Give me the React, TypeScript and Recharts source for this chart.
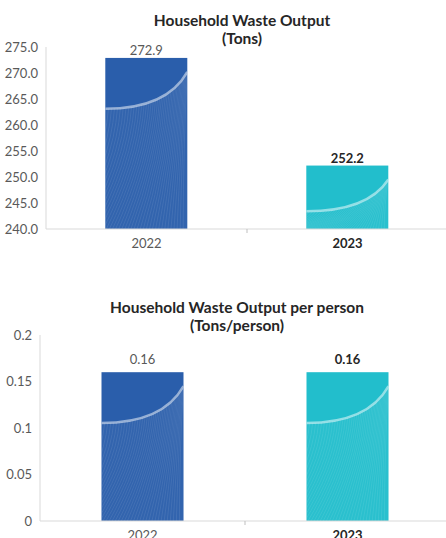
import React from 'react';
import { BarChart, Bar, XAxis, YAxis, LabelList } from 'recharts';

const years = ['2022', '2023'];
const totalTons = [272.9, 252.2];
const perPerson = [0.16, 0.16];
const totalTicks = [240, 245, 250, 255, 260, 265, 270, 275];
const perPersonTicks = [0, 0.05, 0.1, 0.15, 0.2];

const BAR_COLORS = ['#2A5EAB', '#22BECC'];
const FONT = 'Lato, "Open Sans", sans-serif';
const GRAY = '#595959';
const DARK = '#262626';
const AXIS = '#D9D9D9';

const totalData = years.map((year, i) => ({ year, value: totalTons[i] }));
const perPersonData = years.map((year, i) => ({ year, value: perPerson[i] }));

// bar with the swoosh texture from the original report
const texturedBar = (prefix: string) => (props: any) => {
  const { x, y, width: w, height: h, index } = props;
  if (!h || h <= 0) return null;
  const fill = BAR_COLORS[index % BAR_COLORS.length];
  const id = `${prefix}-clip-${index}`;
  const bottom = y + h;
  const yL = y + Math.min(0.62 * w, 0.72 * h);
  const yR = y + Math.min(0.17 * w, 0.3 * h);
  const arc = (t: number) => {
    // quadratic bezier from (x, yL) via (x + 0.75w, yL) to (x + w, yR)
    const cx = x + 0.75 * w;
    const px = (1 - t) * (1 - t) * x + 2 * (1 - t) * t * cx + t * t * (x + w);
    const py = (1 - t) * (1 - t) * yL + 2 * (1 - t) * t * yL + t * t * yR;
    return [px, py];
  };
  const lines = [];
  const n = 40;
  for (let i = 0; i < n; i++) {
    const s = i / (n - 1);
    const [sx, sy] = arc(s);
    const ex = x + (1.5 * s - 0.55) * w;
    const ey = bottom + 4;
    const qx = sx - 0.05 * w;
    const qy = sy + (ey - sy) * 0.45;
    lines.push(
      <path
        key={i}
        d={`M${sx},${sy} Q${qx},${qy} ${ex},${ey}`}
        stroke="#ffffff"
        strokeOpacity={0.14}
        strokeWidth={0.6}
        fill="none"
      />
    );
  }
  return (
    <g>
      <defs>
        <clipPath id={id}>
          <rect x={x} y={y} width={w} height={h} />
        </clipPath>
      </defs>
      <rect x={x} y={y} width={w} height={h} fill={fill} />
      <g clipPath={`url(#${id})`}>
        <path
          d={`M${x},${yL} Q${x + 0.75 * w},${yL} ${x + w},${yR} L${x + w},${bottom} L${x},${bottom} Z`}
          fill="#ffffff"
          fillOpacity={0.04}
        />
        {lines}
        <path
          d={`M${x},${yL} Q${x + 0.75 * w},${yL} ${x + w},${yR}`}
          stroke="#ffffff"
          strokeOpacity={0.5}
          strokeWidth={2.5}
          fill="none"
        />
      </g>
    </g>
  );
};

const YearTick = (props: any) => {
  const { x, y, payload, index } = props;
  const last = index === years.length - 1;
  const half = payload.offset || 0;
  return (
    <g>
      {index > 0 && (
        <line x1={x - half} x2={x - half} y1={y - 8} y2={y - 4} stroke="#BFBFBF" />
      )}
      <text
        x={x}
        y={y}
        dy="0.85em"
        textAnchor="middle"
        fontFamily={FONT}
        fontSize={13}
        fontWeight={last ? 700 : 400}
        fill={last ? DARK : GRAY}
      >
        {payload.value}
      </text>
    </g>
  );
};

const valueLabel = (fmt: (v: number) => string, offset: number) => (props: any) => {
  const { x, y, width, value, index } = props;
  const last = index === years.length - 1;
  return (
    <text
      x={x + width / 2}
      y={y - offset}
      textAnchor="middle"
      fontFamily={FONT}
      fontSize={13}
      fontWeight={last ? 700 : 400}
      fill={last ? DARK : GRAY}
    >
      {fmt(value)}
    </text>
  );
};

const titleStyle: React.CSSProperties = {
  position: 'absolute',
  fontFamily: FONT,
  fontWeight: 700,
  fontSize: 15.5,
  color: DARK,
  textAlign: 'center',
  lineHeight: '18px',
  width: 320,
};

export default function App() {
  return (
    <div style={{ position: 'absolute', left: 0, top: 0, width: 446, height: 538, overflow: 'hidden', background: '#fff' }}>
      <div style={{ ...titleStyle, left: 82, top: 11 }}>
        Household Waste Output
        <br />
        (Tons)
      </div>
      <div style={{ position: 'absolute', left: 0, top: 0 }}>
        <BarChart width={448} height={260} data={totalData} margin={{ top: 47, right: 0, bottom: 0, left: 0 }} barCategoryGap="29.5%">
          <XAxis
            dataKey="year"
            height={31}
            axisLine={{ stroke: AXIS }}
            tickLine={false}
            tick={<YearTick />}
          />
          <YAxis
            width={46}
            domain={[240, 275]}
            ticks={totalTicks}
            allowDataOverflow
            axisLine={{ stroke: AXIS }}
            tickLine={false}
            tickFormatter={(v: number) => v.toFixed(1)}
            tick={{ fill: GRAY, fontSize: 13, fontFamily: FONT }}
          />
          <Bar dataKey="value" isAnimationActive={false} shape={texturedBar('tot')}>
            <LabelList dataKey="value" content={valueLabel((v) => v.toFixed(1), 3)} />
          </Bar>
        </BarChart>
      </div>

      <div style={{ ...titleStyle, left: 77, top: 298 }}>
        Household Waste Output per person
        <br />
        (Tons/person)
      </div>
      <div style={{ position: 'absolute', left: 0, top: 280 }}>
        <BarChart width={450} height={258} data={perPersonData} margin={{ top: 55, right: 0, bottom: 0, left: 0 }} barCategoryGap="30%">
          <XAxis
            dataKey="year"
            height={17}
            axisLine={{ stroke: AXIS }}
            tickLine={false}
            tick={<YearTick />}
          />
          <YAxis
            width={40}
            domain={[0, 0.2]}
            ticks={perPersonTicks}
            axisLine={{ stroke: AXIS }}
            tickLine={false}
            tickFormatter={(v: number) => String(v)}
            tick={{ fill: GRAY, fontSize: 13, fontFamily: FONT }}
          />
          <Bar dataKey="value" isAnimationActive={false} shape={texturedBar('pp')}>
            <LabelList dataKey="value" content={valueLabel((v) => v.toFixed(2), 8)} />
          </Bar>
        </BarChart>
      </div>
    </div>
  );
}
